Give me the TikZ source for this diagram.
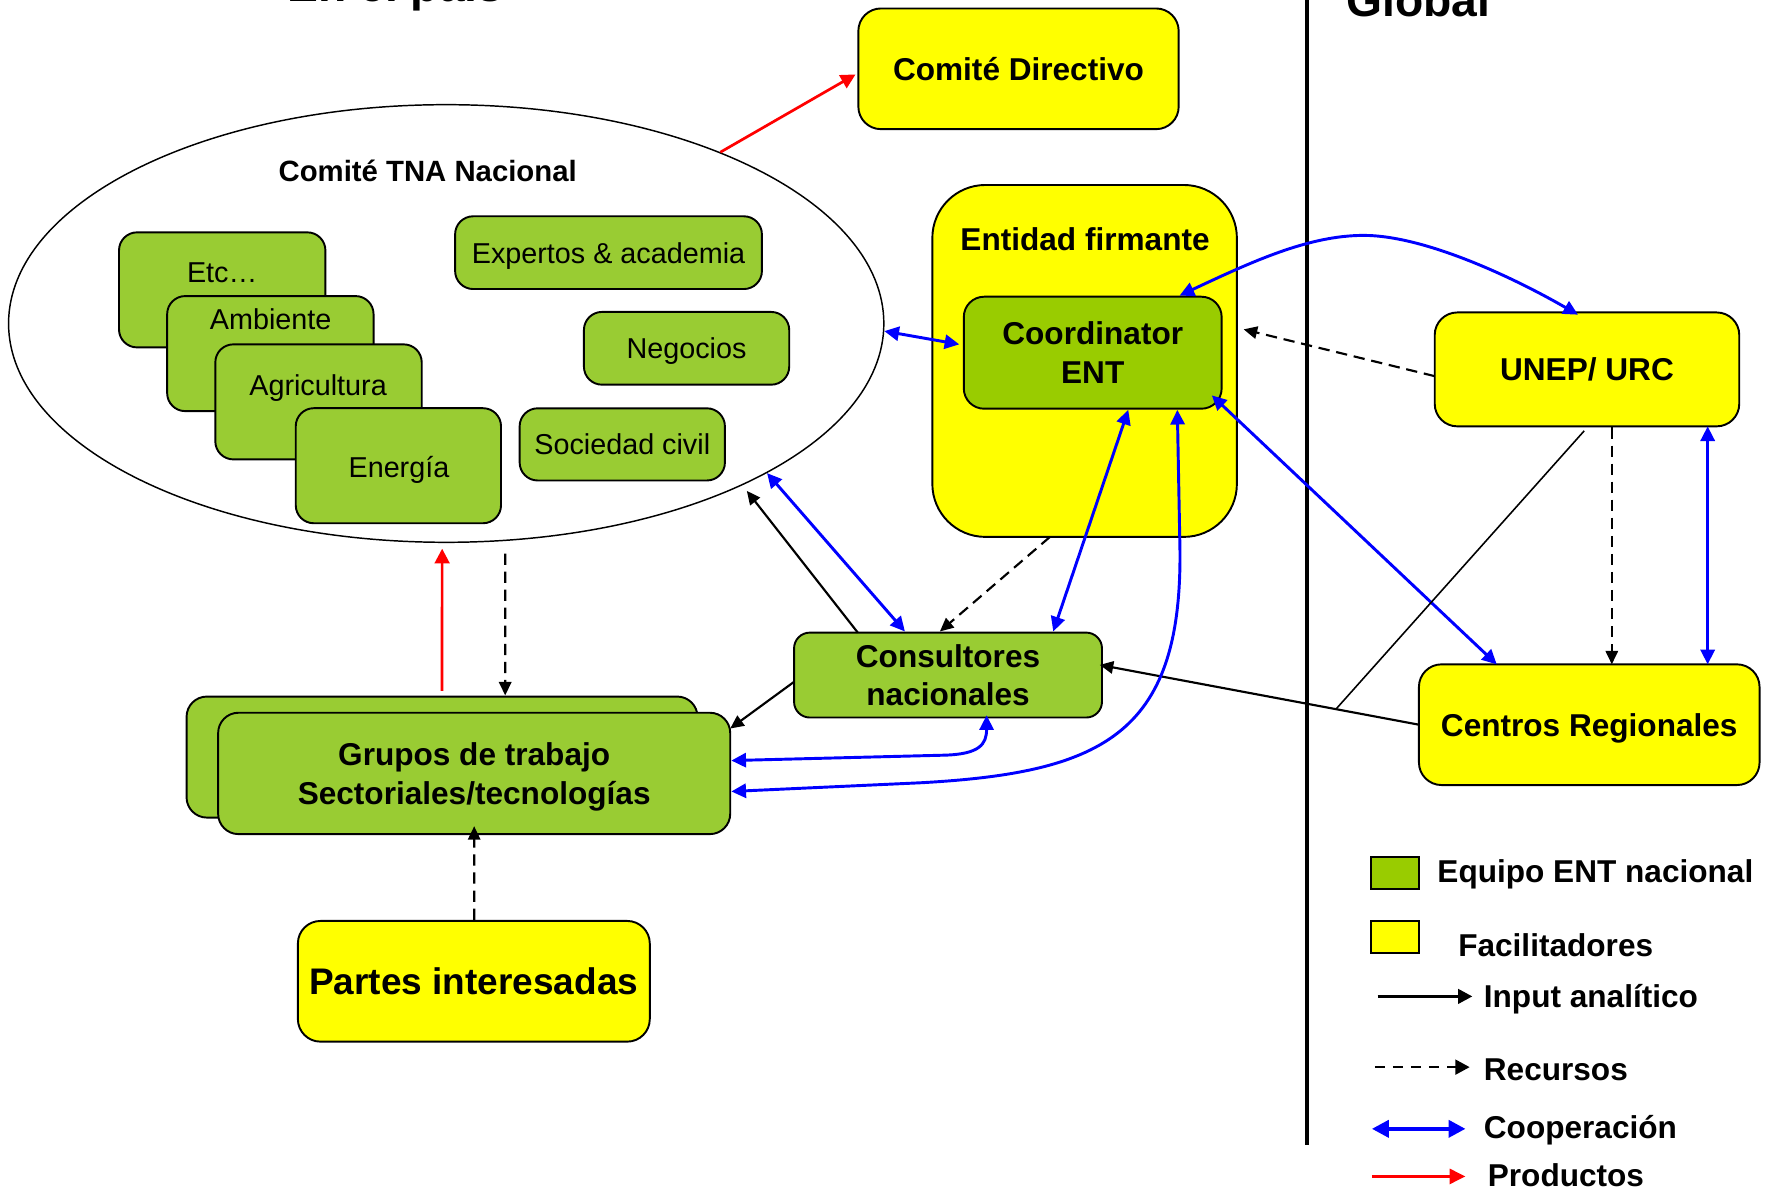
\documentclass[tikz,border=0pt]{standalone}
\usepackage{fontspec}
\setmainfont{Liberation Sans}
\usetikzlibrary{arrows.meta,shapes.geometric,calc}
\definecolor{ygreen}{HTML}{99CC33}
\definecolor{cgreen}{HTML}{99CC00}
\definecolor{fyel}{HTML}{FFFF00}
\newcommand{\fsz}[1]{\fontsize{#1}{34}\selectfont}
\begin{document}
\begin{tikzpicture}[x=1pt,y=-1pt,
  box/.style={draw=black, line width=1.7pt, inner sep=0pt, outer sep=0pt, align=center},
  gbox/.style={box, fill=ygreen, rounded corners=16pt, font=\fsz{25.5}},
  ybox/.style={box, fill=fyel, rounded corners=20pt, font=\bfseries\fsz{28}},
  lbl/.style={inner sep=0pt, text depth=0pt, font=\fsz{25.5}},
  coop/.style={draw=blue, line width=2.6pt, {Triangle[length=13pt,width=12.5pt]}-{Triangle[length=13pt,width=12.5pt]}},
  inp/.style={draw=black, line width=1.9pt, -{Triangle[length=12pt,width=11pt]}},
  res/.style={inp, dash pattern=on 10pt off 6pt},
  prod/.style={draw=red, line width=2.4pt, -{Triangle[length=13pt,width=13pt]}},
  leg/.style={anchor=base west, inner sep=0pt, font=\bfseries\fsz{28}},
  ttl/.style={anchor=base, inner sep=0pt, font=\bfseries\fsz{41}}
]
\clip (0,0) rectangle (1566.6,1060.3);
\fill[white] (0,0) rectangle (1566.6,1060.3);

% titles and divider
\node[ttl] (t1) at (350.6,1) {En el país};
\node[ttl] (t2) at (1257.5,15) {Global};
\draw[line width=3.3pt] (1158.5,-5) -- (1158.5,1014.7);

% nodes
\node[ybox, text depth=0pt, minimum width=284pt, minimum height=107pt] (cd) at (903,61) {Comité Directivo};
\node[ellipse, draw, line width=1.3pt, minimum width=776pt, minimum height=388pt, inner sep=0pt] (ell) at (395.6,286.8) {};
\node[inner sep=0pt, text depth=0pt, font=\bfseries\fsz{26}] (elllbl) at (379.2,151) {Comité TNA Nacional};

\node[gbox, minimum width=183pt, minimum height=102pt] (etc) at (197,257) {};
\node[lbl] (etct) at (197,242) {Etc…};
\node[gbox, minimum width=183pt, minimum height=102pt] (amb) at (239.7,313.5) {};
\node[lbl] (ambt) at (240,283.3) {Ambiente};
\node[gbox, minimum width=183pt, minimum height=102pt] (agr) at (282.4,356.3) {};
\node[lbl] (agrt) at (282,341) {Agricultura};
\node[gbox, minimum width=182pt, minimum height=102pt] (ene) at (353.2,412.9) {};
\node[lbl] (enet) at (353.7,413.9) {Energía};

\node[gbox, text depth=0pt, minimum width=272pt, minimum height=64.5pt] (exp) at (539.5,224) {Expertos \& academia};
\node[gbox, text depth=0pt, minimum width=182pt, minimum height=64.5pt] (neg) at (608.7,308.8) {Negocios};
\node[gbox, text depth=0pt, minimum width=182pt, minimum height=64pt] (soc) at (551.7,394) {Sociedad civil};

\node[box, fill=fyel, rounded corners=47pt, minimum width=270pt, minimum height=312pt] (ent) at (961.6,320) {};
\node[inner sep=0pt, text depth=0pt, font=\bfseries\fsz{28}] (entlbl) at (962,212) {Entidad firmante};
\node[box, fill=cgreen, rounded corners=18pt, font=\bfseries\fsz{28}, minimum width=228.6pt, minimum height=99.3pt] (coord) at (968.8,312.7) {Coordinator\\ENT};

\node[ybox, text depth=0pt, minimum width=270pt, minimum height=101pt] (unep) at (1407,327.5) {UNEP/ URC};
\node[ybox, text depth=0pt, minimum width=302pt, minimum height=107pt] (cen) at (1409,642.5) {Centros Regionales};
\node[box, fill=ygreen, rounded corners=14pt, font=\bfseries\fsz{28}, minimum width=273pt, minimum height=75.3pt] (cons) at (840.5,598.5) {Consultores\\nacionales};

\node[gbox, rounded corners=18pt, minimum width=453pt, minimum height=107.3pt] (grpb) at (391.9,671.2) {};
\node[gbox, rounded corners=18pt, font=\bfseries\fsz{28}, minimum width=454pt, minimum height=107.6pt] (grp) at (420.4,685.7) {Grupos de trabajo\\\raisebox{0pt}[\height][0pt]{Sectoriales/tecnologías}};
\node[ybox, text depth=0pt, font=\bfseries\fsz{32.8}, minimum width=312pt, minimum height=107pt] (partes) at (420.1,870) {Partes interesadas};

% connectors
\draw[prod] (ell.32.6) -- ($(cd.west)+(-2.5,5)$);
\draw[coop] (ell.-1) -- ($(coord.west)+(-4,-7.4)$);
\draw[coop] ($(coord.north)+(77,-1)$) .. controls (1110,232) and (1160,208.7) .. (1209,208.7) .. controls (1262,208.7) and (1340,245) .. ($(unep.north)+(-8,2)$);
\draw[res] ($(unep.west)+(0,6)$) -- ($(ent.east)+(6,-28)$);
\draw[coop] ($(coord.south east)+(-8.7,-11.8)$) -- ($(cen.north)+(-82,0)$);
\draw[res] ($(unep.south)+(22,1)$) -- ($(cen.north)+(20,0)$);
\draw[coop] ($(unep.south)+(107,0)$) -- ($(cen.north)+(105,0)$);
\draw[inp] (cen.west) -- coordinate[pos=0.26] (jn) ($(cons.east)+(-2,-9)$);
\draw[line width=1.4pt] ($(unep.south)+(-2.5,4)$) -- (jn);
\draw[coop] ($(coord.south)+(31.5,1)$) -- ($(cons.north)+(93.3,-1)$);
\draw[res] ($(ent.south)+(-30.7,0)$) -- ($(cons.north)+(-7.2,-1)$);
\draw[coop] (ell.-25.4) -- ($(cons.north)+(-38.2,-1)$);
\draw[inp] ($(cons.north)+(-80,0)$) -- ($(ell.-29)+(6,4)$);
\draw[inp] ($(cons.west)+(0,6)$) -- ($(grp.north east)+(0,14)$);
\draw[coop] ($(grp.east)+(1,-11.4)$) -- (838,669.5) .. controls (868,668.5) and ($(cons.south)+(34.2,24)$) .. ($(cons.south)+(34.2,-2)$);
\draw[coop] ($(grp.east)+(1,16)$) -- (816,694) .. controls (980,685) and (1050,650) .. (1046,480) -- ($(coord.south)+(75,1)$);
\draw[prod] ($(grpb.north)+(0,-5)$) -- ($(ell.south)+(-3.6,5)$);
\draw[res] ($(ell.south)+(52.3,9.3)$) -- ($(grpb.north)+(56,-1)$);
\draw[res] ($(partes.north)+(0.3,-1)$) -- ($(grp.south)+(0,-7)$);

% legend
\node[box, fill=cgreen, minimum width=42.5pt, minimum height=28.5pt] (lg1) at (1236.8,774) {};
\node[box, fill=fyel, minimum width=42.5pt, minimum height=28.6pt] (lg2) at (1236.8,830.8) {};
\node[leg] (lt1) at (1274.2,782.6) {Equipo ENT nacional};
\node[leg] (lt2) at (1292.7,848.1) {Facilitadores};
\node[leg] (lt3) at (1315.4,893.4) {Input analítico};
\node[leg] (lt4) at (1315.4,957.9) {Recursos};
\node[leg] (lt5) at (1315.4,1009.4) {Cooperación};
\node[leg] (lt6) at (1318.9,1052) {Productos};
\coordinate (a1) at (1221.4,883.4); \coordinate (a2) at (1305.3,883.4);
\coordinate (b1) at (1218.9,946.1); \coordinate (b2) at (1303,946.1);
\coordinate (c1) at (1216.3,1000.8); \coordinate (c2) at (1299.3,1000.8);
\coordinate (d1) at (1216.3,1043); \coordinate (d2) at (1299.3,1043);
\draw[draw=black, line width=2.1pt, -{Triangle[length=12.6pt,width=13pt]}] (a1) -- (a2);
\draw[draw=black, line width=2.1pt, dash pattern=on 9pt off 7pt, -{Triangle[length=12.6pt,width=13pt]}] (b1) -- (b2);
\draw[draw=blue, line width=3.5pt, {Triangle[length=15pt,width=15pt]}-{Triangle[length=15pt,width=15pt]}] (c1) -- (c2);
\draw[draw=red, line width=3pt, -{Triangle[length=14pt,width=13pt]}] (d1) -- (d2);
\end{tikzpicture}
\end{document}
